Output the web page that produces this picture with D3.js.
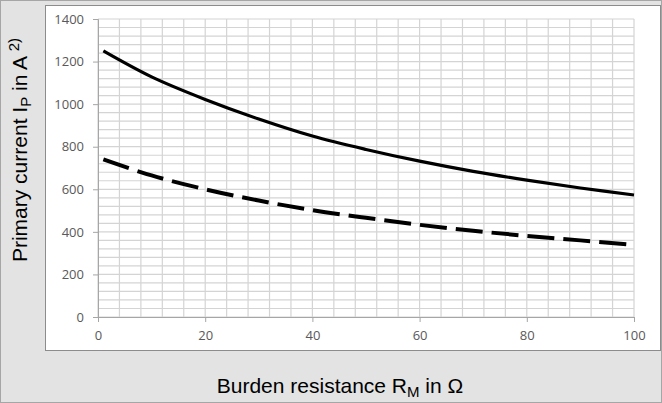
<!DOCTYPE html>
<html>
<head>
<meta charset="utf-8">
<script src="https://cdn.jsdelivr.net/npm/d3@7"></script>
<style>
    body { margin: 0; padding: 0; background: #e3e3e3; }
    svg { display: block; }
    .tick text { font-family: "Open Sans", sans-serif; font-size: 13px; fill: #595959; }
    .title { font-family: "Liberation Sans", Arial, sans-serif; font-size: 21px; fill: #000; }
</style>
</head>
<body>
<div id="Chart_1"></div>
<script>
// burden resistance in ohm
let rm = [1, 10, 20, 30, 40, 50, 60, 70, 80, 90, 100];
// primary current, solid curve
let ipSolid = [1250, 1128, 1022, 930, 850, 787, 732, 684, 643, 606, 573];
// primary current, dashed curve
let ipDashed = [740, 665, 600, 547, 502, 466, 433, 405, 381, 360, 339];
let xTicks = [0, 20, 40, 60, 80, 100];
let yTicks = [0, 200, 400, 600, 800, 1000, 1200, 1400];

let W = 662, H = 403;
let margin = {top: 19, right: 28, bottom: 86, left: 98};
let width = W - margin.left - margin.right,
    height = H - margin.top - margin.bottom;

let svg = d3.select("#Chart_1")
    .append("svg")
    .attr("width", W)
    .attr("height", H);

// outer frame
svg.append("rect")
    .attr("x", 0.5).attr("y", 0.5)
    .attr("width", W - 1).attr("height", H - 1)
    .attr("fill", "#e3e3e3")
    .attr("stroke", "#a6a6a6");

// white chart box
svg.append("rect")
    .attr("x", 45.5).attr("y", 5.5)
    .attr("width", 615).attr("height", 345)
    .attr("fill", "#fff")
    .attr("stroke", "#8c8c8c");

let g = svg.append("g")
    .attr("transform", "translate(" + margin.left + "," + margin.top + ")");

let x = d3.scaleLinear().domain([0, 100]).range([0, width]);
let y = d3.scaleLinear().domain([0, 1400]).range([height, 0]);

// minor grid
g.append("g")
    .selectAll("line")
    .data(d3.range(0, 101, 4))
    .enter()
    .append("line")
    .attr("x1", d => x(d)).attr("x2", d => x(d))
    .attr("y1", 0).attr("y2", height)
    .attr("stroke", "#d4d4d4")
    .attr("stroke-width", 1.2);

g.append("g")
    .selectAll("line")
    .data(d3.range(0, 1401, 40))
    .enter()
    .append("line")
    .attr("x1", 0).attr("x2", width)
    .attr("y1", d => y(d)).attr("y2", d => y(d))
    .attr("stroke", "#d4d4d4")
    .attr("stroke-width", 1.2);

let xAxis = d3.axisBottom(x)
    .tickValues(xTicks)
    .tickFormat(d3.format("d"))
    .tickSize(5)
    .tickPadding(9);

let yAxis = d3.axisLeft(y)
    .tickValues(yTicks)
    .tickFormat(d3.format("d"))
    .tickSize(5)
    .tickPadding(9);

g.append("g")
    .attr("transform", "translate(0," + height + ")")
    .call(xAxis)
    .call(a => a.select(".domain").attr("stroke", "#a6a6a6"))
    .call(a => a.selectAll(".tick line").attr("stroke", "#a6a6a6"));

g.append("g")
    .call(yAxis)
    .call(a => a.select(".domain").attr("stroke", "#a6a6a6"))
    .call(a => a.selectAll(".tick line").attr("stroke", "#a6a6a6"));

let line = d3.line()
    .x((d, i) => x(rm[i]))
    .y(d => y(d))
    .curve(d3.curveCatmullRom.alpha(0.5));

g.append("path")
    .datum(ipSolid)
    .attr("d", line)
    .attr("fill", "none")
    .attr("stroke", "#000")
    .attr("stroke-width", 3.2);

g.append("path")
    .datum(ipDashed)
    .attr("d", line)
    .attr("fill", "none")
    .attr("stroke", "#000")
    .attr("stroke-width", 4)
    .style("stroke-dasharray", ("27,9"));

// axis titles
let xt = svg.append("text")
    .attr("class", "title")
    .attr("x", 340)
    .attr("y", 393)
    .attr("text-anchor", "middle");
xt.append("tspan").text("Burden resistance R");
xt.append("tspan").text("M").attr("font-size", "15px").attr("dy", 4);
xt.append("tspan").text(" in Ω").attr("dy", -4);

let yt = svg.append("text")
    .attr("class", "title")
    .attr("transform", "translate(27,150) rotate(-90)")
    .attr("text-anchor", "middle");
yt.append("tspan").text("Primary current I");
yt.append("tspan").text("P").attr("font-size", "15px").attr("dy", 4);
yt.append("tspan").text(" in A ").attr("dy", -4);
yt.append("tspan").text("2)").attr("font-size", "15px").attr("dy", -8);
</script>
</body>
</html>
